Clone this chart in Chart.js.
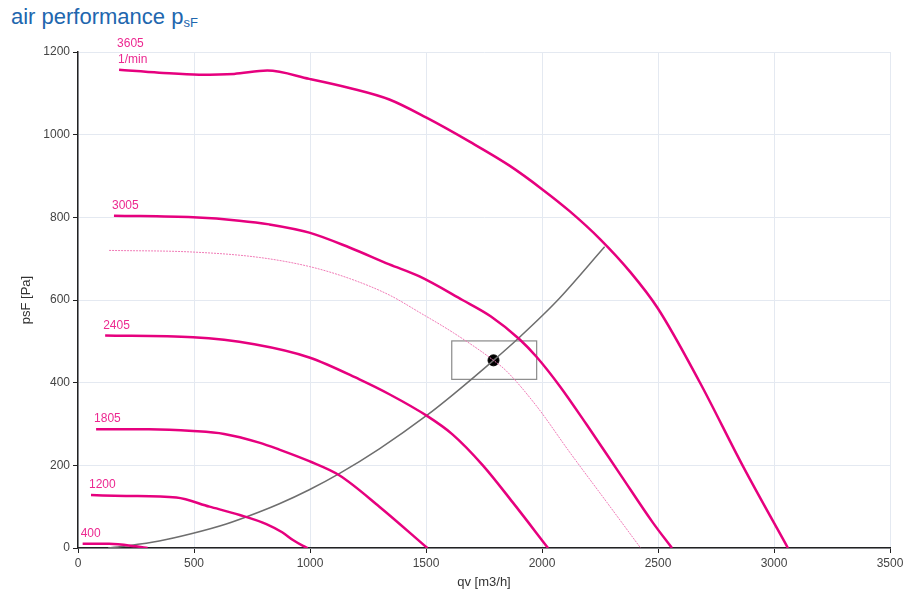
<!DOCTYPE html>
<html lang="en">
<head>
<meta charset="UTF-8">
<title>air performance psF</title>
<style>
  * { margin: 0; padding: 0; }
  body { background: #fff; width: 908px; height: 601px; overflow: hidden; position: relative; }
  .title {
    position: absolute; left: 11px; top: 4px;
    font-family: 'Liberation Sans', Arial, sans-serif;
    font-size: 22px; color: #2166ae; white-space: nowrap;
  }
  .title sub { font-size: 13px; vertical-align: -3px; }
  .chartBox { position: absolute; left: 0; top: 0; width: 908px; height: 601px; }
</style>
</head>
<body>
<div class="title">air performance p<sub>sF</sub></div>
<div class="chartBox"><canvas id="myChart" width="908" height="601"></canvas></div>

<script src="https://cdn.jsdelivr.net/npm/chart.js"></script>
<script>
// fan curves, qv [m3/h] vs psF [Pa]
const fan3605_q = [177, 350, 522, 673, 816, 997, 1170, 1342, 1502, 1688, 1860, 2003, 2119, 2249, 2380, 2499, 2680, 2866, 3060];
const fan3605_p = [1157, 1150, 1145, 1147, 1155, 1135, 1113, 1085, 1041, 983, 925, 867, 815, 748, 668, 580, 401, 198, 0];

const fan3005_q = [155, 496, 695, 824, 997, 1170, 1342, 1472, 1657, 1780, 1903, 1977, 2076, 2193, 2335, 2477, 2560];
const fan3005_p = [804, 800, 792, 783, 763, 727, 686, 657, 600, 560, 505, 462, 392, 298, 180, 62, 0];

const workCurve_q = [134, 496, 781, 997, 1170, 1342, 1472, 1620, 1791, 1847, 1977, 2119, 2279, 2425];
const workCurve_p = [720, 716, 703, 681, 652, 612, 570, 520, 454, 428, 343, 232, 111, 0];

const fan2405_q = [117, 496, 760, 997, 1213, 1342, 1506, 1614, 1745, 1873, 2026];
const fan2405_p = [514, 510, 493, 461, 408, 372, 319, 275, 200, 111, 0];

const fan1805_q = [78, 306, 496, 630, 781, 868, 997, 1126, 1299, 1506];
const fan1805_p = [287, 287, 283, 276, 255, 238, 210, 176, 100, 0];

const fan1200_q = [56, 207, 424, 567, 697, 812, 880, 930, 970, 990];
const fan1200_p = [128, 126, 122, 100, 80, 58, 38, 18, 5, 0];

const fan400_q = [20, 134, 250, 300];
const fan400_p = [10, 10, 4, 0];

// system curve
const system_q = [130, 207, 350, 492, 639, 781, 868, 997, 1126, 1299, 1506, 1614, 1791, 1903, 2063, 2270];
const system_p = [0, 5, 17, 35, 58, 87, 107, 141, 180, 240, 322, 370, 454, 510, 597, 729];

// operating point and its tolerance box
const opPoint_q = [1791];
const opPoint_p = [454];
const opBox_q = [1611, 1977];
const opBox_p = [408, 501];

const xTicks = [0, 500, 1000, 1500, 2000, 2500, 3000, 3500];
const yTicks = [0, 200, 400, 600, 800, 1000, 1200];

const MAGENTA = '#e6007e';
const FONT = "'Liberation Sans', Arial, sans-serif";

function pts(q, p) {
  return q.map((v, i) => ({ x: v, y: p[i] }));
}

function fanSet(name, q, p) {
  return {
    label: name,
    data: pts(q, p),
    showLine: true,
    borderColor: MAGENTA,
    borderWidth: 2.5,
    pointRadius: 0,
    cubicInterpolationMode: 'monotone'
  };
}

const datasets = [
  fanSet('3605', fan3605_q, fan3605_p),
  fanSet('3005', fan3005_q, fan3005_p),
  fanSet('2405', fan2405_q, fan2405_p),
  fanSet('1805', fan1805_q, fan1805_p),
  fanSet('1200', fan1200_q, fan1200_p),
  fanSet('400', fan400_q, fan400_p),
  {
    label: 'work',
    data: pts(workCurve_q, workCurve_p),
    showLine: true,
    borderColor: '#f07ab6',
    borderWidth: 1,
    borderDash: [2, 1],
    pointRadius: 0,
    cubicInterpolationMode: 'monotone'
  },
  {
    label: 'system',
    data: pts(system_q, system_p),
    showLine: true,
    borderColor: '#6e6e6e',
    borderWidth: 1.5,
    pointRadius: 0,
    cubicInterpolationMode: 'monotone'
  },
  {
    label: 'op',
    data: pts(opPoint_q, opPoint_p),
    pointRadius: 5.5,
    backgroundColor: '#000',
    borderColor: '#000'
  }
];

// labels at curve starts, box and axis titles
const extras = {
  id: 'extras',
  beforeDatasetsDraw(chart) {
    const { ctx, scales: { x, y } } = chart;
    const x0 = x.getPixelForValue(opBox_q[0]), x1 = x.getPixelForValue(opBox_q[1]);
    const y0 = y.getPixelForValue(opBox_p[1]), y1 = y.getPixelForValue(opBox_p[0]);
    ctx.save();
    ctx.strokeStyle = '#8a8a8a';
    ctx.lineWidth = 1.2;
    ctx.strokeRect(x0, y0, x1 - x0, y1 - y0);
    ctx.restore();
  },
  afterDraw(chart) {
    const { ctx, scales: { x, y } } = chart;
    ctx.save();
    ctx.fillStyle = '#ec2890';
    ctx.font = '12px ' + FONT;
    ctx.textAlign = 'left';
    ctx.textBaseline = 'alphabetic';
    chart.data.datasets.slice(0, 6).forEach(ds => {
      const px = x.getPixelForValue(ds.data[0].x) - 2;
      const py = y.getPixelForValue(ds.data[0].y);
      if (ds.label === '3605') {
        ctx.fillText('3605', px, py - 23);
        ctx.fillText('1/min', px + 1, py - 7);
      } else {
        ctx.fillText(ds.label, px, py - 7);
      }
    });

    ctx.fillStyle = '#333';
    ctx.font = '13px ' + FONT;
    ctx.textAlign = 'center';
    ctx.textBaseline = 'middle';
    ctx.fillText('qv [m3/h]', (x.left + x.right) / 2, 582);
    ctx.translate(26, (y.top + y.bottom) / 2);
    ctx.rotate(-Math.PI / 2);
    ctx.fillText('psF [Pa]', 0, 0);
    ctx.restore();
  }
};

const config = {
  type: 'scatter',
  data: { datasets },
  options: {
    responsive: false,
    animation: false,
    layout: { padding: { left: 0, top: 52, right: 18, bottom: 0 } },
    plugins: {
      legend: { display: false },
      tooltip: { enabled: false }
    },
    scales: {
      x: {
        type: 'linear',
        min: xTicks[0],
        max: xTicks[xTicks.length - 1],
        afterBuildTicks: s => { s.ticks = xTicks.map(v => ({ value: v })); },
        afterFit: s => { s.height = 53; },
        grid: { color: '#e4e9f1', tickColor: '#222', tickLength: 5 },
        border: { color: '#222', width: 1.5 },
        ticks: { font: { size: 12, family: FONT }, color: '#444', padding: 3, callback: v => String(v) }
      },
      y: {
        type: 'linear',
        min: yTicks[0],
        max: yTicks[yTicks.length - 1],
        afterBuildTicks: s => { s.ticks = yTicks.map(v => ({ value: v })); },
        afterFit: s => { s.width = 78; },
        grid: { color: '#e4e9f1', tickColor: '#222', tickLength: 5 },
        border: { color: '#222', width: 1.5 },
        ticks: { font: { size: 12, family: FONT }, color: '#444', padding: 3, callback: v => String(v) }
      }
    }
  },
  plugins: [extras]
};

const myChart = new Chart(document.getElementById('myChart'), config);
</script>
</body>
</html>
